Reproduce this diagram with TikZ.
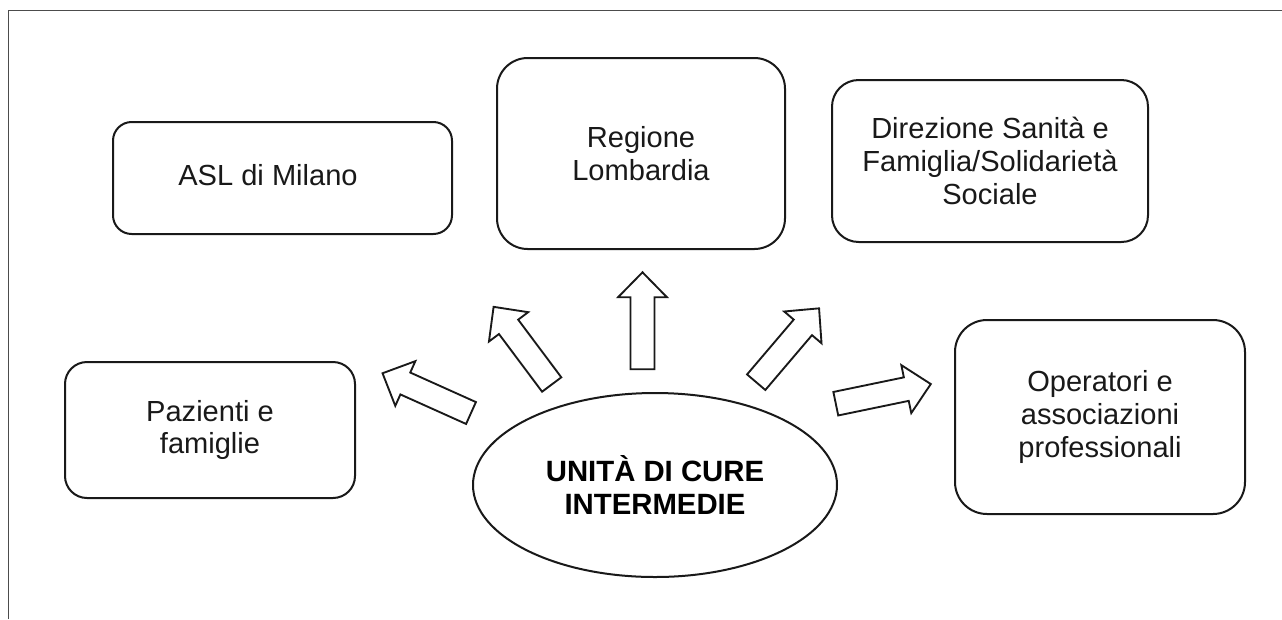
\documentclass[tikz,border=0pt]{standalone}
\usepackage{fontspec}
\setmainfont{Liberation Sans}
\usetikzlibrary{shapes.geometric}
\tikzset{
  boxnode/.style={draw=black!90, line width=1.5pt, rectangle, minimum width=#1, inner sep=0pt},
  txt/.style={font=\fontsize{21.8}{24.5}\selectfont, align=center, text=black!90, inner sep=0pt},
  frameline/.style={draw=black!70, line width=1.3pt},
  arrowline/.style={draw=black!90, line width=1.4pt, fill=white, line join=miter},
  blockarrow/.pic={\path[arrowline] (0,-12) -- (72,-12) -- (72,-24.5) -- (97,0) -- (72,24.5) -- (72,12) -- (0,12) -- cycle;}
}
\begin{document}
\begin{tikzpicture}[x=0.75pt,y=-0.75pt]
\useasboundingbox (0,0) rectangle (1282,619);
\fill[white] (0,0) rectangle (1282,619);
\draw[frameline] (8.5,619) -- (8.5,10.5) -- (1282,10.5);

% boxes
\node[boxnode=254.25pt, minimum height=84pt, rounded corners=14pt] (asl) at (282.5,178) {};
\node[txt] (asltxt) at (268,175) {ASL di Milano};

\node[boxnode=216pt, minimum height=143.25pt, rounded corners=23pt, txt, draw=black!90, line width=1.5pt] (reg) at (641,153.5) {Regione\\Lombardia};

\node[boxnode=237pt, minimum height=121.5pt, rounded corners=20pt, txt, draw=black!90, line width=1.5pt] (dir) at (990,161) {Direzione Sanità e\\Famiglia/Solidarietà\\Sociale};

\node[boxnode=217.5pt, minimum height=102pt, rounded corners=16.5pt, txt, draw=black!90, line width=1.5pt] (paz) at (210,430) {Pazienti e\\famiglie};

\node[boxnode=217.5pt, minimum height=145.5pt, rounded corners=24pt, txt, draw=black!90, line width=1.5pt] (op) at (1100,417) {Operatori e\\associazioni\\professionali};

% centre ellipse
\node[ellipse, draw=black!90, line width=1.5pt, minimum width=273pt, minimum height=138pt, inner sep=0pt,
  font=\fontsize{22}{25}\selectfont\bfseries, align=center] (uci) at (655,485) {UNITÀ DI CURE\\INTERMEDIE};

% block arrows
\pic[rotate=155.8] (arL) at (471,413) {blockarrow};
\pic[rotate=126.8] (arUL) at (551.7,384.5) {blockarrow};
\pic[rotate=90] (arU) at (642.5,369.3) {blockarrow};
\pic[rotate=49.6] (arUR) at (756.2,382.2) {blockarrow};
\pic[rotate=11.7] (arR) at (835.8,403.7) {blockarrow};
\end{tikzpicture}
\end{document}
